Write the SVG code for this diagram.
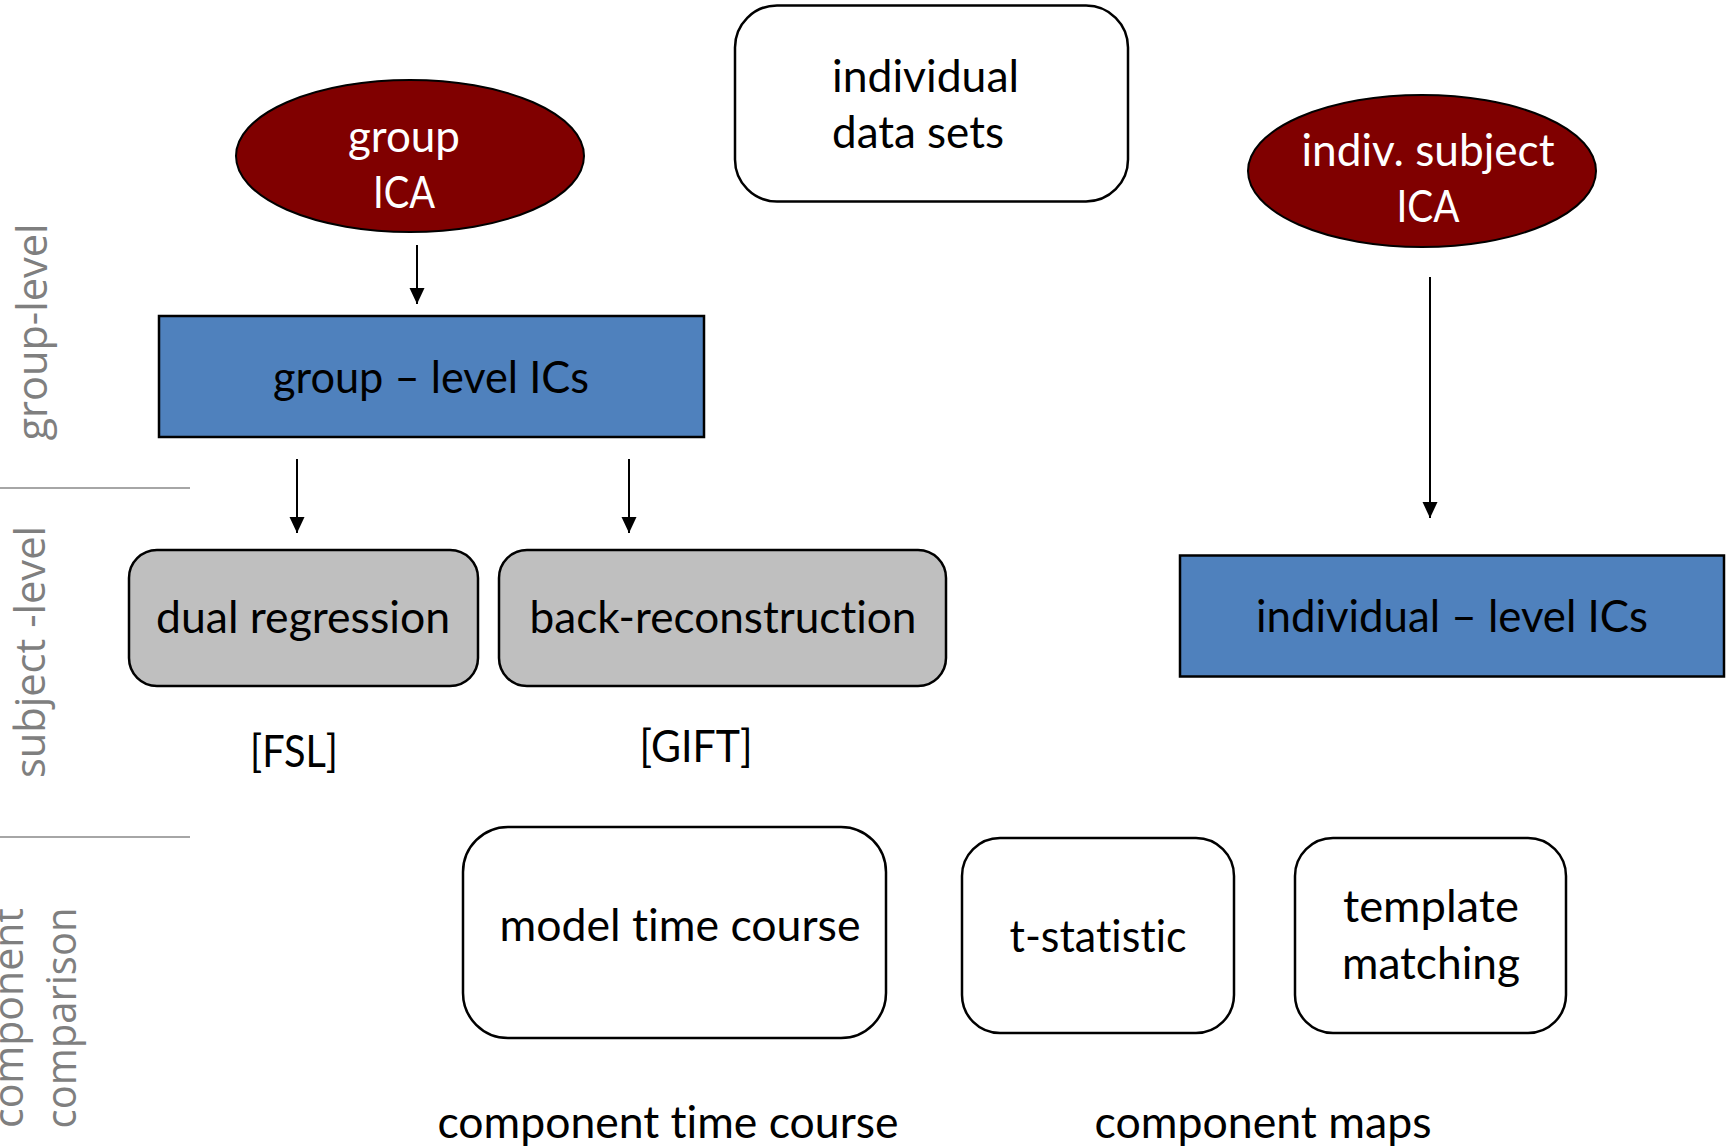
<svg xmlns="http://www.w3.org/2000/svg" width="1735" height="1148" viewBox="0 0 1735 1148">
<style>
.t{font-family:Lato,"Liberation Sans",sans-serif;font-size:44px;fill:#000;text-anchor:middle;font-variant-ligatures:none}
.w{fill:#fff}
.side{font-family:"Open Sans","Liberation Sans",sans-serif;font-size:42px;fill:#7f7f7f;text-anchor:middle}
.wbox{fill:#fff;stroke:#000;stroke-width:2.5}
.gbox{fill:#bfbfbf;stroke:#000;stroke-width:2.5}
.bbox{fill:#4f81bd;stroke:#000;stroke-width:2.5}
.ell{fill:#800000;stroke:#000;stroke-width:2}
.conn{stroke:#000;stroke-width:2;fill:none}
.div{stroke:#a6a6a6;stroke-width:2}
</style>
<defs>
<marker id="ah" markerUnits="userSpaceOnUse" markerWidth="16" markerHeight="16" refX="16" refY="7.5" orient="auto">
<path d="M0,0 L16,7.5 L0,15 z" fill="#000"/>
</marker>
</defs>
<rect width="1735" height="1148" fill="#fff"/>

<g id="side-labels">
<line class="div" x1="0" y1="488" x2="190" y2="488"/>
<line class="div" x1="0" y1="837" x2="190" y2="837"/>
<text class="side" transform="translate(47,332) rotate(-90)" textLength="217" lengthAdjust="spacingAndGlyphs">group-level</text>
<text class="side" transform="translate(45,652) rotate(-90)" textLength="252" lengthAdjust="spacingAndGlyphs">subject -level</text>
<text class="side" transform="translate(23,1018) rotate(-90)" textLength="220" lengthAdjust="spacingAndGlyphs">component</text>
<text class="side" transform="translate(76,1018) rotate(-90)" textLength="221" lengthAdjust="spacingAndGlyphs">comparison</text>
</g>

<g id="connectors">
<line class="conn" x1="417" y1="245" x2="417" y2="304" marker-end="url(#ah)"/>
<line class="conn" x1="297" y1="459" x2="297" y2="533" marker-end="url(#ah)"/>
<line class="conn" x1="629" y1="459" x2="629" y2="533" marker-end="url(#ah)"/>
<line class="conn" x1="1430" y1="277" x2="1430" y2="518" marker-end="url(#ah)"/>
</g>

<g id="individual-data-sets">
<rect class="wbox" x="735" y="5.5" width="393" height="196" rx="42" ry="42"/>
<text class="t" style="text-anchor:start" x="832" y="92" textLength="187" lengthAdjust="spacingAndGlyphs">individual</text>
<text class="t" style="text-anchor:start" x="832" y="148" textLength="172" lengthAdjust="spacingAndGlyphs">data sets</text>
</g>

<g id="group-ica">
<ellipse class="ell" cx="410" cy="156" rx="174" ry="76"/>
<text class="t w" x="404" y="152" textLength="112" lengthAdjust="spacingAndGlyphs">group</text>
<text class="t w" x="404" y="208" textLength="62" lengthAdjust="spacingAndGlyphs">ICA</text>
</g>

<g id="indiv-subject-ica">
<ellipse class="ell" cx="1422" cy="171" rx="174" ry="76"/>
<text class="t w" x="1428" y="166" textLength="253" lengthAdjust="spacingAndGlyphs">indiv. subject</text>
<text class="t w" x="1428" y="222" textLength="63" lengthAdjust="spacingAndGlyphs">ICA</text>
</g>

<g id="group-level-ics">
<rect class="bbox" x="159" y="316" width="545" height="121"/>
<text class="t" x="431" y="393" textLength="316" lengthAdjust="spacingAndGlyphs">group – level ICs</text>
</g>

<g id="dual-regression">
<rect class="gbox" x="129" y="550" width="349" height="136" rx="28" ry="28"/>
<text class="t" x="303" y="633" textLength="294" lengthAdjust="spacingAndGlyphs">dual regression</text>
</g>
<text class="t" x="294" y="767" textLength="88" lengthAdjust="spacingAndGlyphs">[FSL]</text>

<g id="back-reconstruction">
<rect class="gbox" x="499" y="550" width="447" height="136" rx="28" ry="28"/>
<text class="t" x="723" y="633" textLength="387" lengthAdjust="spacingAndGlyphs">back-reconstruction</text>
</g>
<text class="t" x="696" y="762" textLength="113" lengthAdjust="spacingAndGlyphs">[GIFT]</text>

<g id="individual-level-ics">
<rect class="bbox" x="1180" y="555.5" width="544" height="121"/>
<text class="t" x="1452" y="632" textLength="392" lengthAdjust="spacingAndGlyphs">individual – level ICs</text>
</g>

<g id="model-time-course">
<rect class="wbox" x="463" y="827" width="423" height="211" rx="45" ry="45"/>
<text class="t" x="680" y="941" textLength="361" lengthAdjust="spacingAndGlyphs">model time course</text>
</g>
<text class="t" x="668" y="1138" textLength="461" lengthAdjust="spacingAndGlyphs">component time course</text>

<g id="t-statistic">
<rect class="wbox" x="962" y="838" width="272" height="195" rx="38" ry="38"/>
<text class="t" x="1098" y="952" textLength="177" lengthAdjust="spacingAndGlyphs">t-statistic</text>
</g>

<g id="template-matching">
<rect class="wbox" x="1295" y="838" width="271" height="195" rx="38" ry="38"/>
<text class="t" x="1431" y="922" textLength="176" lengthAdjust="spacingAndGlyphs">template</text>
<text class="t" x="1431" y="979" textLength="178" lengthAdjust="spacingAndGlyphs">matching</text>
</g>
<text class="t" x="1263" y="1138" textLength="337" lengthAdjust="spacingAndGlyphs">component maps</text>
</svg>
